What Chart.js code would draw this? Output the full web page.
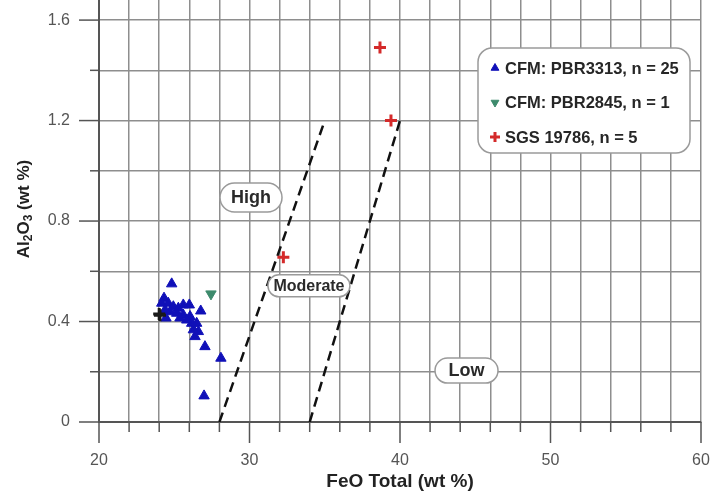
<!DOCTYPE html>
<html><head><meta charset="utf-8">
<script src="https://cdn.jsdelivr.net/npm/chart.js@4/dist/chart.umd.min.js"></script>
<style>html,body{margin:0;padding:0;background:#fff}canvas{display:block}</style>
</head><body>
<canvas id="c" width="712" height="491"></canvas>
<script>
// ---- data ----
const pbr3313X = [24.83,24.32,24.17,24.60,24.94,25.27,25.60,26.00,24.72,25.16,25.60,26.05,24.39,26.16,25.83,26.76,26.38,26.60,26.27,27.04,28.10,26.98,26.49,25.38,24.45];
const pbr3313Y = [0.550,0.493,0.473,0.473,0.459,0.453,0.466,0.466,0.439,0.433,0.426,0.420,0.446,0.393,0.406,0.442,0.340,0.360,0.367,0.300,0.254,0.104,0.393,0.414,0.414];
const pbr2845X = [27.44];
const pbr2845Y = [0.51];
const sgsX = [38.67,39.40,32.25,24.00,24.05];
const sgsY = [1.491,1.200,0.656,0.430,0.425];
const boundHighX = [28,35];
const boundHighY = [0,1.2];
const boundLowX = [34,40];
const boundLowY = [0,1.2];
const seriesNames = ['CFM: PBR3313, n = 25','CFM: PBR2845, n = 1','SGS 19786, n = 5'];
const zoneNames = ['High','Moderate','Low'];
const zoneX = [30.1,33.95,44.42];
const zoneY = [0.894,0.542,0.205];
const xTickValues = [20,22,24,26,28,30,32,34,36,38,40,42,44,46,48,50,52,54,56,58,60];
const xTickLabels = ['20','30','40','50','60'];
const yTickValues = [0,0.2,0.4,0.6,0.8,1.0,1.2,1.4,1.6];
const yTickLabels = ['0','0.4','0.8','1.2','1.6'];

const pts = (xs, ys) => xs.map((x,i)=>({x, y: ys[i]}));
const FONT = '"Liberation Sans", Arial, Helvetica, sans-serif';
const BLUE = '#1010b8', GREEN = '#3d8a6c', RED = '#d42a2a';

const markerStyles = [
  {pointStyle:'triangle', rotation:0, color:BLUE, radius:5, borderWidth:1},
  {pointStyle:'triangle', rotation:180, color:GREEN, radius:5, borderWidth:1},
  {pointStyle:'cross', rotation:0, color:RED, radius:6, borderWidth:3}
];

const zeroPad = s => { s.paddingLeft = 0; s.paddingRight = 0; s.paddingTop = 0; s.paddingBottom = 0; };

const overlayPlugin = {
  id:'overlay',
  afterDraw(chart){
    const ctx = chart.ctx, xs = chart.scales.x, ys = chart.scales.y, ca = chart.chartArea;
    ctx.save();
    // tick marks
    ctx.strokeStyle = '#555'; ctx.lineWidth = 1.5;
    xs.ticks.forEach(t=>{
      const p = xs.getPixelForValue(t.value);
      const L = (t.value % 10 === 0) ? 21 : 10;
      ctx.beginPath(); ctx.moveTo(p, ca.bottom); ctx.lineTo(p, ca.bottom + L); ctx.stroke();
    });
    ys.ticks.forEach(t=>{
      const p = ys.getPixelForValue(t.value);
      const q = t.value / 0.4;
      const L = Math.abs(q - Math.round(q)) < 1e-6 ? 20 : 9;
      ctx.beginPath(); ctx.moveTo(ca.left - L, p); ctx.lineTo(ca.left, p); ctx.stroke();
    });

    // rounded box helper
    const rbox = (x, y, w, h, r) => {
      ctx.beginPath();
      ctx.roundRect(x, y, w, h, r);
      ctx.fillStyle = '#fff'; ctx.fill();
      ctx.strokeStyle = '#9a9a9a'; ctx.lineWidth = 1.5; ctx.stroke();
    };

    // zone labels
    const zoneFont = [18, 16, 18];
    const zoneBox = [[62,29],[82,22],[63,25]];
    zoneNames.forEach((name, i)=>{
      const cx = xs.getPixelForValue(zoneX[i]);
      const cy = ys.getPixelForValue(zoneY[i]);
      const [w,h] = zoneBox[i];
      rbox(cx - w/2, cy - h/2, w, h, h/2);
      ctx.fillStyle = '#2a2a2a';
      ctx.font = 'bold ' + zoneFont[i] + 'px ' + FONT;
      ctx.textAlign = 'center'; ctx.textBaseline = 'middle';
      ctx.fillText(name, cx, cy + 1);
    });

    // legend
    const lx = 478, ly = 48, lw = 212, lh = 105;
    rbox(lx, ly, lw, lh, 14);
    ctx.font = 'bold 16.5px ' + FONT;
    ctx.textAlign = 'left'; ctx.textBaseline = 'middle';
    seriesNames.forEach((name, i)=>{
      const cy = ly + 20 + i * 34.5;
      const m = markerStyles[i];
      ctx.fillStyle = m.color; ctx.strokeStyle = m.color;
      ctx.lineWidth = m.borderWidth;
      Chart.helpers.drawPoint(ctx, {pointStyle:m.pointStyle, rotation:m.rotation, radius: i===2?5:4.5, borderWidth:m.borderWidth}, lx + 17, cy);
      ctx.fillStyle = '#262626';
      ctx.fillText(name, lx + 27, cy + 1);
    });

    // y axis title with subscripts
    ctx.translate(24, (ca.top + ca.bottom) / 2 - 2);
    ctx.rotate(-Math.PI / 2);
    const big = 'bold 17px ' + FONT, small = 'bold 12px ' + FONT;
    const parts = [['Al',big,0],['2',small,5],['O',big,0],['3',small,5],[' (wt %)',big,0]];
    let total = 0;
    parts.forEach(p=>{ ctx.font = p[1]; total += ctx.measureText(p[0]).width; });
    let x = -total / 2;
    ctx.fillStyle = '#222'; ctx.textAlign = 'left'; ctx.textBaseline = 'middle';
    parts.forEach(p=>{ ctx.font = p[1]; ctx.fillText(p[0], x, p[2]); x += ctx.measureText(p[0]).width; });
    ctx.restore();
  }
};

new Chart(document.getElementById('c'), {
  type: 'scatter',
  data: {
    datasets: [
      {label:'boundary high', type:'line', data: pts(boundHighX, boundHighY), borderColor:'#111', borderWidth:2.5, borderDash:[10,6], pointRadius:0, fill:false, order:3},
      {label:'boundary low', type:'line', data: pts(boundLowX, boundLowY), borderColor:'#111', borderWidth:2.5, borderDash:[10,6], pointRadius:0, fill:false, order:3},
      {label:seriesNames[0], data: pts(pbr3313X, pbr3313Y), pointStyle:'triangle', pointRadius:6, backgroundColor:BLUE, borderColor:BLUE, borderWidth:1, order:2},
      {label:seriesNames[1], data: pts(pbr2845X, pbr2845Y), pointStyle:'triangle', rotation:180, pointRadius:6, backgroundColor:GREEN, borderColor:GREEN, borderWidth:1, order:2},
      {label:seriesNames[2], data: pts(sgsX, sgsY), pointStyle:'cross', pointRadius:6,
        borderColor: ctx => (ctx.raw && ctx.raw.x < 26) ? '#1a1a1a' : RED, borderWidth:3, order:1}
    ]
  },
  options: {
    responsive:false, animation:false,
    layout:{autoPadding:false, padding:{left:0, right:11, top:0, bottom:0}},
    plugins:{legend:{display:false}, tooltip:{enabled:false}},
    scales:{
      x:{
        type:'linear', min:20, max:60,
        afterBuildTicks: s => { s.ticks = xTickValues.map(v=>({value:v})); },
        afterFit: s => { s.height = 69; zeroPad(s); },
        grid:{color:'#8e8e8e', lineWidth:1.5, drawTicks:false},
        border:{display:true, color:'#555', width:2},
        ticks:{padding:29, color:'#555', font:{family:FONT, size:16}, maxRotation:0,
          callback: v => xTickLabels.includes(String(v)) ? String(v) : ''},
        title:{display:true, text:'FeO Total (wt %)', color:'#222', font:{family:FONT, size:19, weight:'bold', lineHeight:1}, padding:{top:0,bottom:0}}
      },
      y:{
        type:'linear', min:0, max:1.68,
        afterBuildTicks: s => { s.ticks = yTickValues.map(v=>({value:v})); },
        afterFit: s => { s.width = 99; zeroPad(s); },
        grid:{color:'#8e8e8e', lineWidth:1.5, drawTicks:false},
        border:{display:true, color:'#555', width:2},
        ticks:{padding:29, color:'#555', font:{family:FONT, size:16},
          callback: v => { const s = (Math.round(v*10)/10).toString(); const l = (s === '1' ? '1.0' : s); return yTickLabels.includes(l) ? l : ''; }}
      }
    }
  },
  plugins:[overlayPlugin]
});
</script>
</body></html>
